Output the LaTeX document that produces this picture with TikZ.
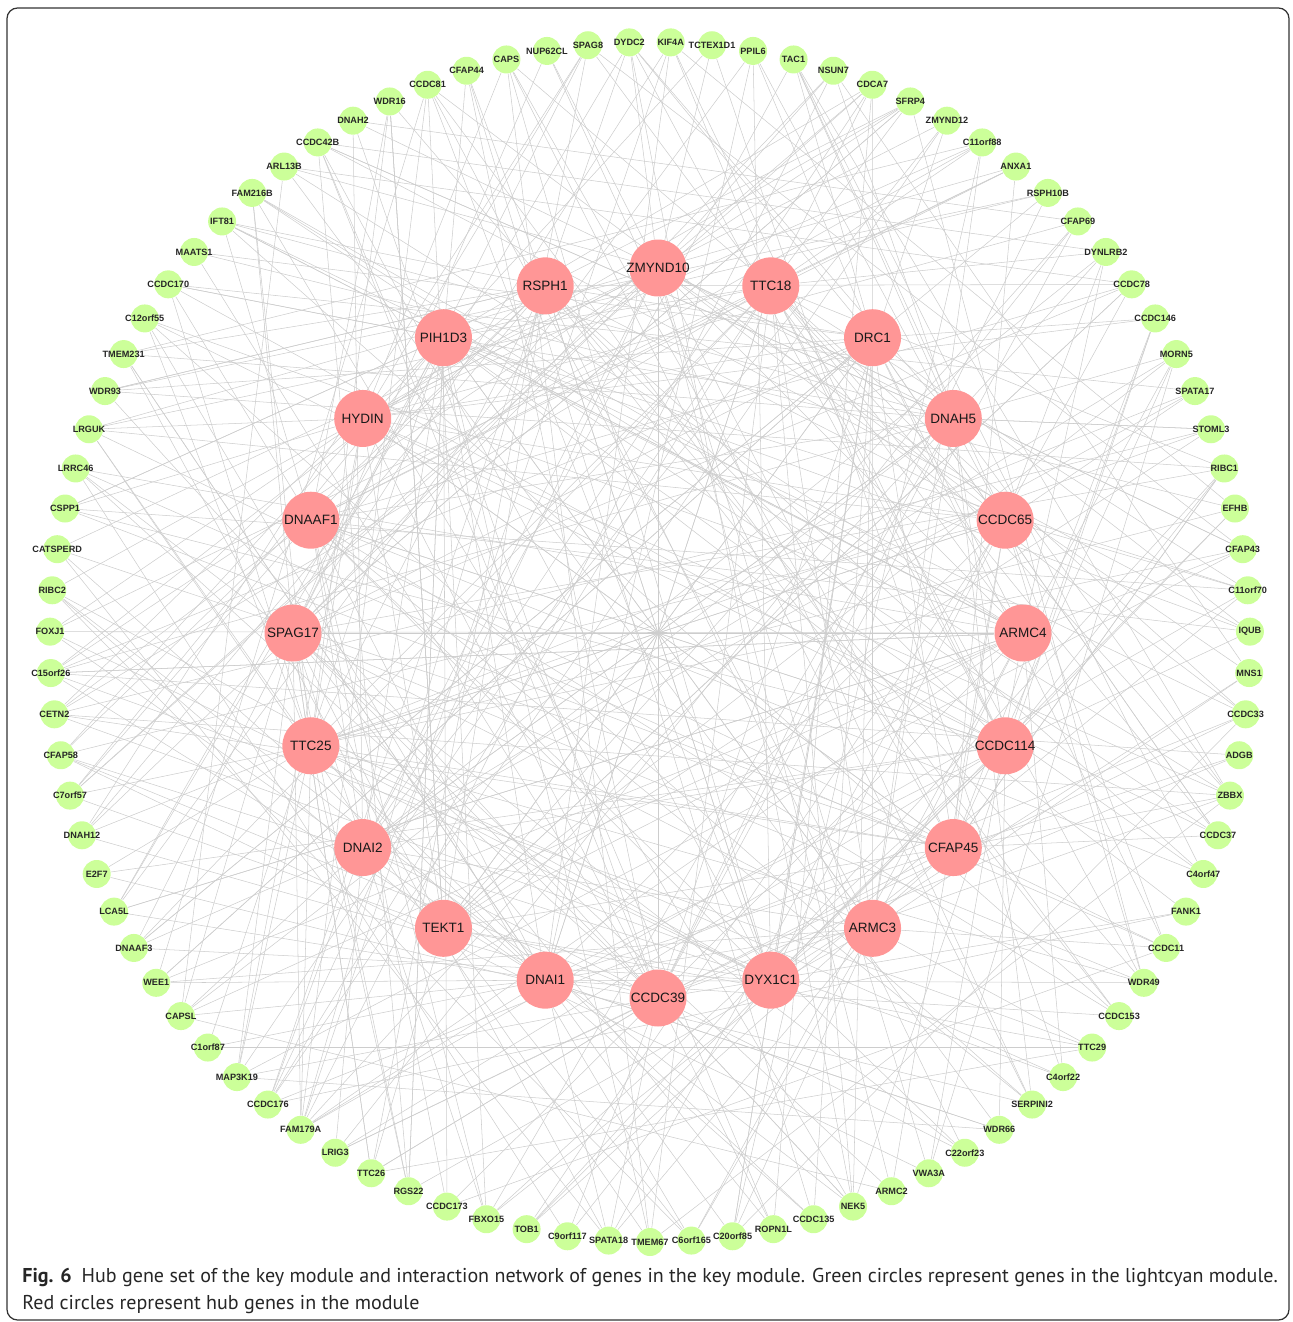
\documentclass[tikz,border=0pt]{standalone}
\usepackage{fontspec}
\setmainfont{PT Sans}
\setsansfont{Liberation Sans}
\usetikzlibrary{backgrounds}
\definecolor{genegreen}{RGB}{204,255,153}
\definecolor{hubred}{RGB}{255,150,150}
\definecolor{linkgray}{RGB}{205,205,205}
\begin{document}
\begin{tikzpicture}[x=0.02cm,y=-0.02cm,
  gene/.style={circle,fill=genegreen,minimum size=0.56cm,inner sep=0pt},
  hub/.style={circle,fill=hubred,minimum size=1.14cm,inner sep=0pt},
  genetext/.style={inner sep=0pt,text=black!85,font=\sffamily\bfseries\fontsize{5.2}{6}\selectfont},
  hubtext/.style={inner sep=0pt,text=black!90,font=\sffamily\fontsize{7.7}{9}\selectfont},
  link/.style={draw=linkgray,line width=0.3pt},
  captext/.style={anchor=west,inner sep=0pt,text=black!85,font=\fontsize{11.4}{14}\selectfont}]
\useasboundingbox (0,0) rectangle (1292,1322);
\draw[black!80,line width=0.7pt,rounded corners=6pt] (7,8) rectangle (1289,1320);
\foreach \n [count=\i] in {DYDC2,KIF4A,TCTEX1D1,PPIL6,TAC1,NSUN7,CDCA7,SFRP4,ZMYND12,C11orf88,ANXA1,RSPH10B,CFAP69,DYNLRB2,CCDC78,CCDC146,MORN5,SPATA17,STOML3,RIBC1,EFHB,CFAP43,C11orf70,IQUB,MNS1,CCDC33,ADGB,ZBBX,CCDC37,C4orf47,FANK1,CCDC11,WDR49,CCDC153,TTC29,C4orf22,SERPINI2,WDR66,C22orf23,VWA3A,ARMC2,NEK5,CCDC135,ROPN1L,C20orf85,C6orf165,TMEM67,SPATA18,C9orf117,TOB1,FBXO15,CCDC173,RGS22,TTC26,LRIG3,FAM179A,CCDC176,MAP3K19,C1orf87,CAPSL,WEE1,DNAAF3,LCA5L,E2F7,DNAH12,C7orf57,CFAP58,CETN2,C15orf26,FOXJ1,RIBC2,CATSPERD,CSPP1,LRRC46,LRGUK,WDR93,TMEM231,C12orf55,CCDC170,MAATS1,IFT81,FAM216B,ARL13B,CCDC42B,DNAH2,WDR16,CCDC81,CFAP44,CAPS,NUP62CL,SPAG8} {
  \pgfmathsetmacro\a{91.978-3.95604*(\i-1)}
  \node[gene] (g\i) at ({650+600*cos(\a)},{642-600*sin(\a)}) {};
  \node[genetext] (gt\i) at (g\i) {\n};
}
\foreach \n [count=\i] in {ZMYND10,TTC18,DRC1,DNAH5,CCDC65,ARMC4,CCDC114,CFAP45,ARMC3,DYX1C1,CCDC39,DNAI1,TEKT1,DNAI2,TTC25,SPAG17,DNAAF1,HYDIN,PIH1D3,RSPH1} {
  \pgfmathsetmacro\a{90-(\i-1)*18}
  \node[hub] (r\i) at ({658+365*cos(\a)},{633-365*sin(\a)}) {};
  \node[hubtext] (rt\i) at (r\i) {\n};
}
\begin{scope}[on background layer]
\pgfmathsetseed{11}
\foreach \i in {1,...,91} {
  \pgfmathrandominteger{\nl}{2}{5}
  \foreach \k in {1,...,\nl} {
    \pgfmathrandominteger{\ra}{1}{20}
    \draw[link] (g\i) -- (r\ra);
  }
  \pgfmathrandominteger{\go}{18}{73}
  \pgfmathtruncatemacro{\gj}{mod(\i+\go-1,91)+1}
  \draw[link] (g\i) -- (g\gj);
}
\foreach \i in {1,...,20} \foreach \k in {3,5,7,10} {
  \pgfmathtruncatemacro{\j}{mod(\i+\k-1,20)+1}
  \draw[link] (r\i) -- (r\j);
}
\end{scope}
\node[captext] (cap1) at (22,1277) {\textbf{Fig. 6}\enspace Hub gene set of the key module and interaction network of genes in the key module. Green circles represent genes in the lightcyan module.};
\node[captext] (cap2) at (22,1305) {Red circles represent hub genes in the module};
\end{tikzpicture}
\end{document}
